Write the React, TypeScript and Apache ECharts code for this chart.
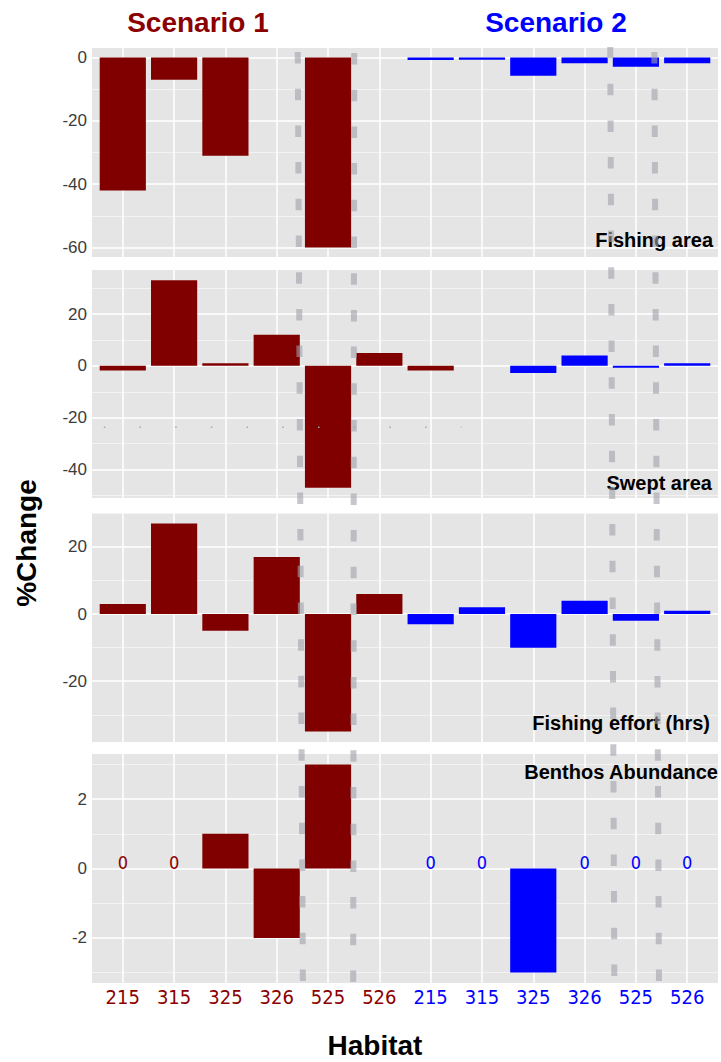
import React, { useEffect, useRef } from 'react';
import * as echarts from 'echarts';

// ---------------- data ----------------
const habitats = ['215', '315', '325', '326', '525', '526'];
const scenarioNames = ['Scenario 1', 'Scenario 2'];
const panelNames = ['Fishing area', 'Swept area', 'Fishing effort (hrs)', 'Benthos Abundance'];

// values at the 12 x positions: 6 habitats of Scenario 1, then 6 habitats of Scenario 2
const fishingArea = [-42, -7, -31, null, -60, null, -0.8, -0.7, -5.8, -1.8, -2.9, -1.8];
const sweptArea = [-1.8, 33, 1, 12, -47, 5, -1.8, null, -2.8, 4, -0.7, 1];
const fishingEffort = [3, 27, -5, 17, -35, 6, -3, 2, -10, 4, -2, 1];
const benthosAbundance = [0, 0, 1, -2, 3, null, 0, 0, -3, 0, 0, 0];

// colour group of each bar (1 = Scenario 1 colour, 2 = Scenario 2 colour)
const defaultGroups = [1, 1, 1, 1, 1, 1, 2, 2, 2, 2, 2, 2];
const sweptGroups = [1, 1, 1, 1, 1, 1, 1, 2, 2, 2, 2, 2];

const majorTicks = [
  [0, -20, -40, -60],
  [20, 0, -20, -40],
  [20, 0, -20],
  [2, 0, -2],
];
const minorTicks = [
  [-10, -30, -50],
  [30, 10, -10, -30, -50],
  [30, 10, -10, -30],
  [3, 1, -1, -3],
];

// ---------------- styles / layout ----------------
const RED = '#800000';
const RED_TEXT = '#8B0000';
const BLUE = '#0000FF';
const PANEL_BG = '#E5E5E5';
const SANS = '"Liberation Sans", Arial, Helvetica, sans-serif';
const NARROW = '"Liberation Sans Narrow", "Arial Narrow", "DejaVu Sans Condensed", sans-serif';

const W = 721;
const H = 1062;
const plotLeft = 92;
const plotRight = 718;
const panelTops = [48, 270, 513, 754];
const panelHeights = [209, 228, 229, 229];
const X_EXPAND = 0.6;
const nPos = 12;
const xMin = -X_EXPAND;
const xMax = nPos - 1 + X_EXPAND;
const band = (plotRight - plotLeft) / (xMax - xMin);
const xPx = (u: number) => plotLeft + (u - xMin) * band;
const panelLabelPos = [
  [713, 240],
  [712, 483],
  [710, 723],
  [718, 772],
];

const panelValues = [fishingArea, sweptArea, fishingEffort, benthosAbundance];
const panelGroups = [defaultGroups, sweptGroups, defaultGroups, defaultGroups];

function yRange(vals: (number | null)[]) {
  const nums = vals.filter((v) => v !== null) as number[];
  const lo = Math.min(0, ...nums);
  const hi = Math.max(0, ...nums);
  const pad = (hi - lo) * 0.05;
  return [lo - pad, hi + pad];
}
const ranges = panelValues.map(yRange);

const yPx = (panel: number, v: number) => {
  const [lo, hi] = ranges[panel];
  return panelTops[panel] + ((hi - v) / (hi - lo)) * panelHeights[panel];
};

// overlay dashed guide lines, in x-position units (top -> bottom)
const guideLines = [
  { u1: 3.41, u2: 3.51, y1: 52 },
  { u1: 4.51, u2: 4.49, y1: 53 },
  { u1: 9.5, u2: 9.58, y1: 47 },
  { u1: 10.36, u2: 10.45, y1: 52 },
];
const guideBottom = 985;

function buildOption() {
  const positions = Array.from({ length: nPos }, (_, i) => i);
  const grid: any[] = [];
  const xAxis: any[] = [];
  const yAxis: any[] = [];
  const series: any[] = [];

  panelValues.forEach((vals, p) => {
    const [lo, hi] = ranges[p];
    grid.push({
      left: plotLeft,
      width: plotRight - plotLeft,
      top: panelTops[p],
      height: panelHeights[p],
      show: true,
      backgroundColor: PANEL_BG,
      borderWidth: 0,
    });
    const isLast = p === panelValues.length - 1;
    xAxis.push({
      type: 'value',
      gridIndex: p,
      min: xMin,
      max: xMax,
      axisLine: { show: false },
      axisTick: { show: false, customValues: positions },
      splitLine: { show: true, lineStyle: { color: '#FFFFFF', width: 1.5 } },
      axisLabel: {
        show: isLast,
        customValues: positions,
        margin: 4,
        fontSize: 20,
        fontFamily: NARROW,
        formatter: (val: number) => {
          const i = Math.round(val);
          const name = habitats[i % habitats.length];
          return i < habitats.length ? `{a|${name}}` : `{b|${name}}`;
        },
        rich: {
          a: { color: RED_TEXT, fontSize: 20, fontFamily: NARROW },
          b: { color: BLUE, fontSize: 20, fontFamily: NARROW },
        },
      },
    });
    yAxis.push({
      type: 'value',
      gridIndex: p,
      min: lo,
      max: hi,
      axisLine: { show: false },
      axisTick: { show: false, customValues: majorTicks[p] },
      splitLine: { show: true, lineStyle: { color: '#FFFFFF', width: 1.5 } },
      axisLabel: {
        show: true,
        customValues: majorTicks[p],
        margin: 5,
        fontSize: 17,
        fontFamily: SANS,
        color: '#3C3C3C',
        formatter: (v: number) => String(Math.round(v)),
      },
    });
    yAxis.push({
      type: 'value',
      gridIndex: p,
      min: lo,
      max: hi,
      axisLine: { show: false },
      axisTick: { show: false, customValues: minorTicks[p] },
      axisLabel: { show: false },
      splitLine: { show: true, lineStyle: { color: 'rgba(255,255,255,0.55)', width: 1 } },
    });

    const groups = panelGroups[p];
    const data = vals
      .map((v, i) => {
        if (v === null) return null;
        const col = groups[i] === 1 ? RED : BLUE;
        const txt = groups[i] === 1 ? RED_TEXT : BLUE;
        return {
          value: [i, v],
          itemStyle: { color: col },
          label: {
            show: v === 0,
            position: 'top',
            distance: -3,
            formatter: '0',
            color: txt,
            fontSize: 18,
            fontFamily: NARROW,
          },
        };
      })
      .filter((d) => d !== null);

    series.push({
      type: 'bar',
      name: panelNames[p],
      xAxisIndex: p,
      yAxisIndex: p * 2,
      barWidth: band * 0.9,
      data,
      z: 2,
    });
  });

  const graphic: any[] = [];
  // scenario titles
  graphic.push({
    type: 'text',
    x: 198,
    y: 22,
    style: {
      text: scenarioNames[0],
      fill: RED_TEXT,
      font: `bold 28px ${SANS}`,
      align: 'center',
      verticalAlign: 'middle',
      textAlign: 'center',
      textVerticalAlign: 'middle',
    },
  });
  graphic.push({
    type: 'text',
    x: 556,
    y: 22,
    style: {
      text: scenarioNames[1],
      fill: BLUE,
      font: `bold 28px ${SANS}`,
      align: 'center',
      verticalAlign: 'middle',
      textAlign: 'center',
      textVerticalAlign: 'middle',
    },
  });
  // panel labels
  panelNames.forEach((name, p) => {
    graphic.push({
      type: 'text',
      x: panelLabelPos[p][0],
      y: panelLabelPos[p][1],
      z: 50,
      style: {
        text: name,
        fill: '#000000',
        font: `bold 20px ${SANS}`,
        align: 'right',
        verticalAlign: 'middle',
        textAlign: 'right',
        textVerticalAlign: 'middle',
      },
    });
  });
  // axis titles
  graphic.push({
    type: 'text',
    x: 26,
    y: 543,
    rotation: Math.PI / 2,
    style: {
      text: '%Change',
      fill: '#000000',
      font: `bold 28px ${SANS}`,
      align: 'center',
      verticalAlign: 'middle',
      textAlign: 'center',
      textVerticalAlign: 'middle',
    },
  });
  graphic.push({
    type: 'text',
    x: 375,
    y: 1045,
    style: {
      text: 'Habitat',
      fill: '#000000',
      font: `bold 28px ${SANS}`,
      align: 'center',
      verticalAlign: 'middle',
      textAlign: 'center',
      textVerticalAlign: 'middle',
    },
  });
  // faint dotted trace in the swept-area panel
  const dotY = yPx(1, -23.7);
  graphic.push({
    type: 'line',
    z: 60,
    silent: true,
    shape: { x1: xPx(-0.37), y1: dotY, x2: xPx(6.6), y2: dotY },
    style: { stroke: '#A8A8A8', lineWidth: 1.5, lineDash: [1.5, 34.2] },
  });
  // dashed grey guide lines over the whole figure
  guideLines.forEach((g) => {
    graphic.push({
      type: 'line',
      z: 80,
      silent: true,
      shape: { x1: xPx(g.u1), y1: g.y1, x2: xPx(g.u2), y2: guideBottom },
      style: { stroke: 'rgba(160,160,172,0.6)', lineWidth: 6, lineDash: [11.5, 25.2] },
    });
  });

  return {
    animation: false,
    backgroundColor: '#FFFFFF',
    grid,
    xAxis,
    yAxis,
    series,
    graphic,
  };
}

export default function App() {
  const ref = useRef<HTMLDivElement>(null);
  useEffect(() => {
    if (!ref.current) return;
    const chart = echarts.init(ref.current, null, { renderer: 'svg' });
    chart.setOption(buildOption() as any);
    return () => chart.dispose();
  }, []);
  return (
    <div
      ref={ref}
      style={{ position: 'absolute', left: 0, top: 0, width: W, height: H }}
    />
  );
}
